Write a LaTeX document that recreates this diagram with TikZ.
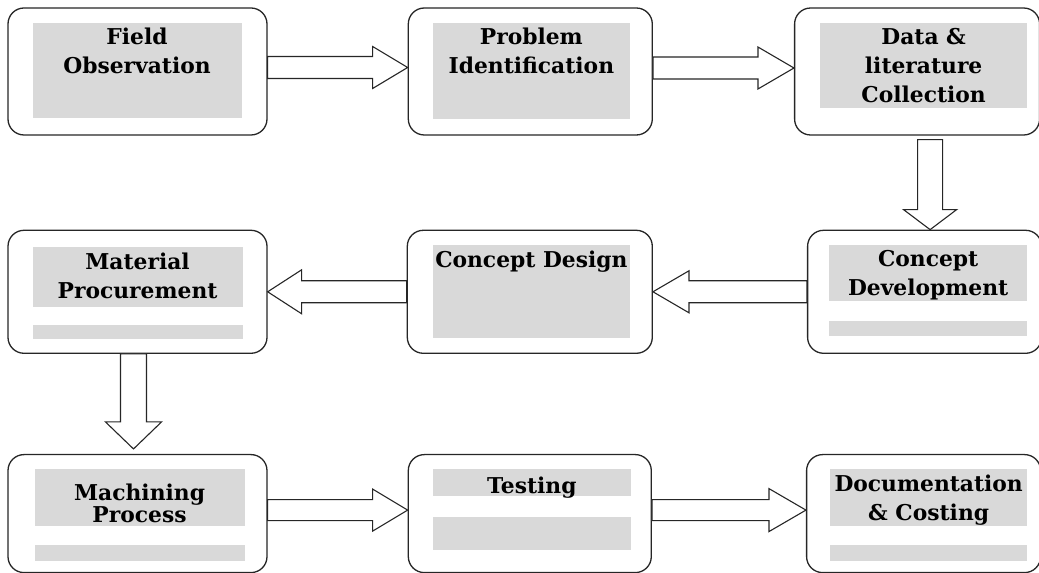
\documentclass[tikz,border=0pt]{standalone}
\usepackage{fontspec}
\setmainfont{DejaVu Serif}
\usetikzlibrary{positioning,calc}

\begin{document}
\begin{tikzpicture}[x=1pt,y=1pt]
  \definecolor{panelgray}{HTML}{D9D9D9}
  \definecolor{darkline}{HTML}{262626}
  \newcommand{\stagename}[1]{\begin{tabular}{c}#1\end{tabular}}
  \tikzstyle{block}     = [rectangle, rounded corners=16pt, draw=darkline, line width=1.3pt, fill=white, inner sep=0pt]
  \tikzstyle{panel}     = [rectangle, fill=panelgray, inner sep=0pt]
  \tikzstyle{stagetext} = [inner sep=0pt, font=\fontsize{21.8}{29}\selectfont\bfseries]
  \tikzset{connector/.style n args={3}{draw=darkline, fill=white, line width=1.1pt, line join=miter,
    to path={($(\tikztostart)!#1!90:(\tikztotarget)$)
      -- ($(\tikztotarget)!#3!(\tikztostart)!#1!90:(\tikztotarget)$)
      -- ($(\tikztotarget)!#3!(\tikztostart)!#2!90:(\tikztotarget)$)
      -- (\tikztotarget)
      -- ($(\tikztotarget)!#3!(\tikztostart)!#2!-90:(\tikztotarget)$)
      -- ($(\tikztotarget)!#3!(\tikztostart)!#1!-90:(\tikztotarget)$)
      -- ($(\tikztostart)!#1!-90:(\tikztotarget)$) -- cycle}}}
  \useasboundingbox (0,0) rectangle (1039,573);
  % boxes
  \node [block, minimum width=259pt, minimum height=127pt] (observe) at (137.5,501.5) {};
  \node [block, minimum width=244pt, minimum height=127pt, right = 140pt of observe] (problem)  {};
  \node [block, minimum width=245pt, minimum height=127pt, right = 141pt of problem] (collect)  {};
  \node [block, minimum width=259pt, minimum height=123pt, below = 94pt of observe]  (material) {};
  \node [block, minimum width=245pt, minimum height=123pt, right = 139pt of material] (design)  {};
  \node [block, minimum width=234pt, minimum height=123pt, right = 154pt of design]  (develop)  {};
  \node [block, minimum width=259pt, minimum height=118pt, below = 100pt of material] (machine) {};
  \node [block, minimum width=243pt, minimum height=118pt, right = 140pt of machine] (testing)  {};
  \node [block, minimum width=234pt, minimum height=118pt, right = 154pt of testing] (costing)  {};
  % gray fields
  \node [panel, minimum width=209pt, minimum height=95pt, below right = 15pt and 25pt of observe.north west]  (observebg)  {};
  \node [panel, minimum width=197pt, minimum height=96pt, below right = 15pt and 25pt of problem.north west]  (problembg)  {};
  \node [panel, minimum width=207pt, minimum height=85pt, below right = 15pt and 26pt of collect.north west]  (collectbg)  {};
  \node [panel, minimum width=210pt, minimum height=60pt, below right = 17pt and 25pt of material.north west] (materialbg) {};
  \node [panel, minimum width=210pt, minimum height=14pt, below right = 95pt and 25pt of material.north west] (materiallow) {};
  \node [panel, minimum width=197pt, minimum height=93pt, below right = 15pt and 26pt of design.north west]   (designbg)   {};
  \node [panel, minimum width=198pt, minimum height=56pt, below right = 15pt and 22pt of develop.north west]  (developbg)  {};
  \node [panel, minimum width=198pt, minimum height=15pt, below right = 91pt and 22pt of develop.north west]  (developlow) {};
  \node [panel, minimum width=210pt, minimum height=57pt, below right = 15pt and 27pt of machine.north west]  (machinebg)  {};
  \node [panel, minimum width=210pt, minimum height=16pt, below right = 91pt and 27pt of machine.north west]  (machinelow) {};
  \node [panel, minimum width=198pt, minimum height=27pt, below right = 15pt and 25pt of testing.north west]  (testingbg)  {};
  \node [panel, minimum width=198pt, minimum height=33pt, below right = 63pt and 25pt of testing.north west]  (testinglow) {};
  \node [panel, minimum width=197pt, minimum height=57pt, below right = 15pt and 24pt of costing.north west]  (costingbg)  {};
  \node [panel, minimum width=197pt, minimum height=16pt, below right = 91pt and 24pt of costing.north west]  (costinglow) {};
  % names
  \node [stagetext, below = 2pt of observebg.north]  (observetext)  {\stagename{Field\\Observation}};
  \node [stagetext, below = 2pt of problembg.north]  (problemtext)  {\stagename{Problem\\Identification}};
  \node [stagetext, below = 2pt of collectbg.north]  (collecttext)  {\stagename{Data \&\\literature\\Collection}};
  \node [stagetext, below = 2pt of materialbg.north] (materialtext) {\stagename{Material\\Procurement}};
  \node [stagetext, below = 2.5pt of designbg.north] (designtext)   {\stagename{Concept Design}};
  \node [stagetext, below = 1pt of developbg.north]  (developtext)  {\stagename{Concept\\Development}};
  \node [stagetext, below = 14.5pt of machinebg.north, font=\fontsize{21.8}{22}\selectfont\bfseries] (machinetext) {\stagename{Machining\\Process}};
  \node [stagetext, below = 4.5pt of testingbg.north] (testingtext)  {\stagename{Testing}};
  \node [stagetext, below = 2.5pt of costingbg.north] (costingtext)  {\stagename{Documentation\\\& Costing}};
  % arrows
  \draw [connector={11pt}{21pt}{35pt}] ([yshift=4pt]observe.east) to ([yshift=4pt]observe.east -| problem.west);
  \draw [connector={11pt}{21pt}{36pt}] ([yshift=3.5pt]problem.east) to ([yshift=3.5pt]problem.east -| collect.west);
  \draw [connector={12.5pt}{26.5pt}{20pt}] ([xshift=13pt,yshift=-4pt]collect.south) to ([xshift=13pt]collect.south |- develop.north);
  \draw [connector={11pt}{21pt}{36pt}] (develop.west) to (develop.west -| design.east);
  \draw [connector={11pt}{22pt}{34pt}] (design.west) to (design.west -| material.east);
  \draw [connector={13pt}{28pt}{27pt}] ([xshift=-4pt]material.south) to ([xshift=-4pt,yshift=5pt]material.south |- machine.north);
  \draw [connector={10.5pt}{21pt}{35pt}] ([yshift=3.5pt]machine.east) to ([yshift=3.5pt]machine.east -| testing.west);
  \draw [connector={10.5pt}{21.5pt}{37pt}] ([yshift=3.5pt]testing.east) to ([yshift=3.5pt]testing.east -| costing.west);
\end{tikzpicture}
\end{document}
